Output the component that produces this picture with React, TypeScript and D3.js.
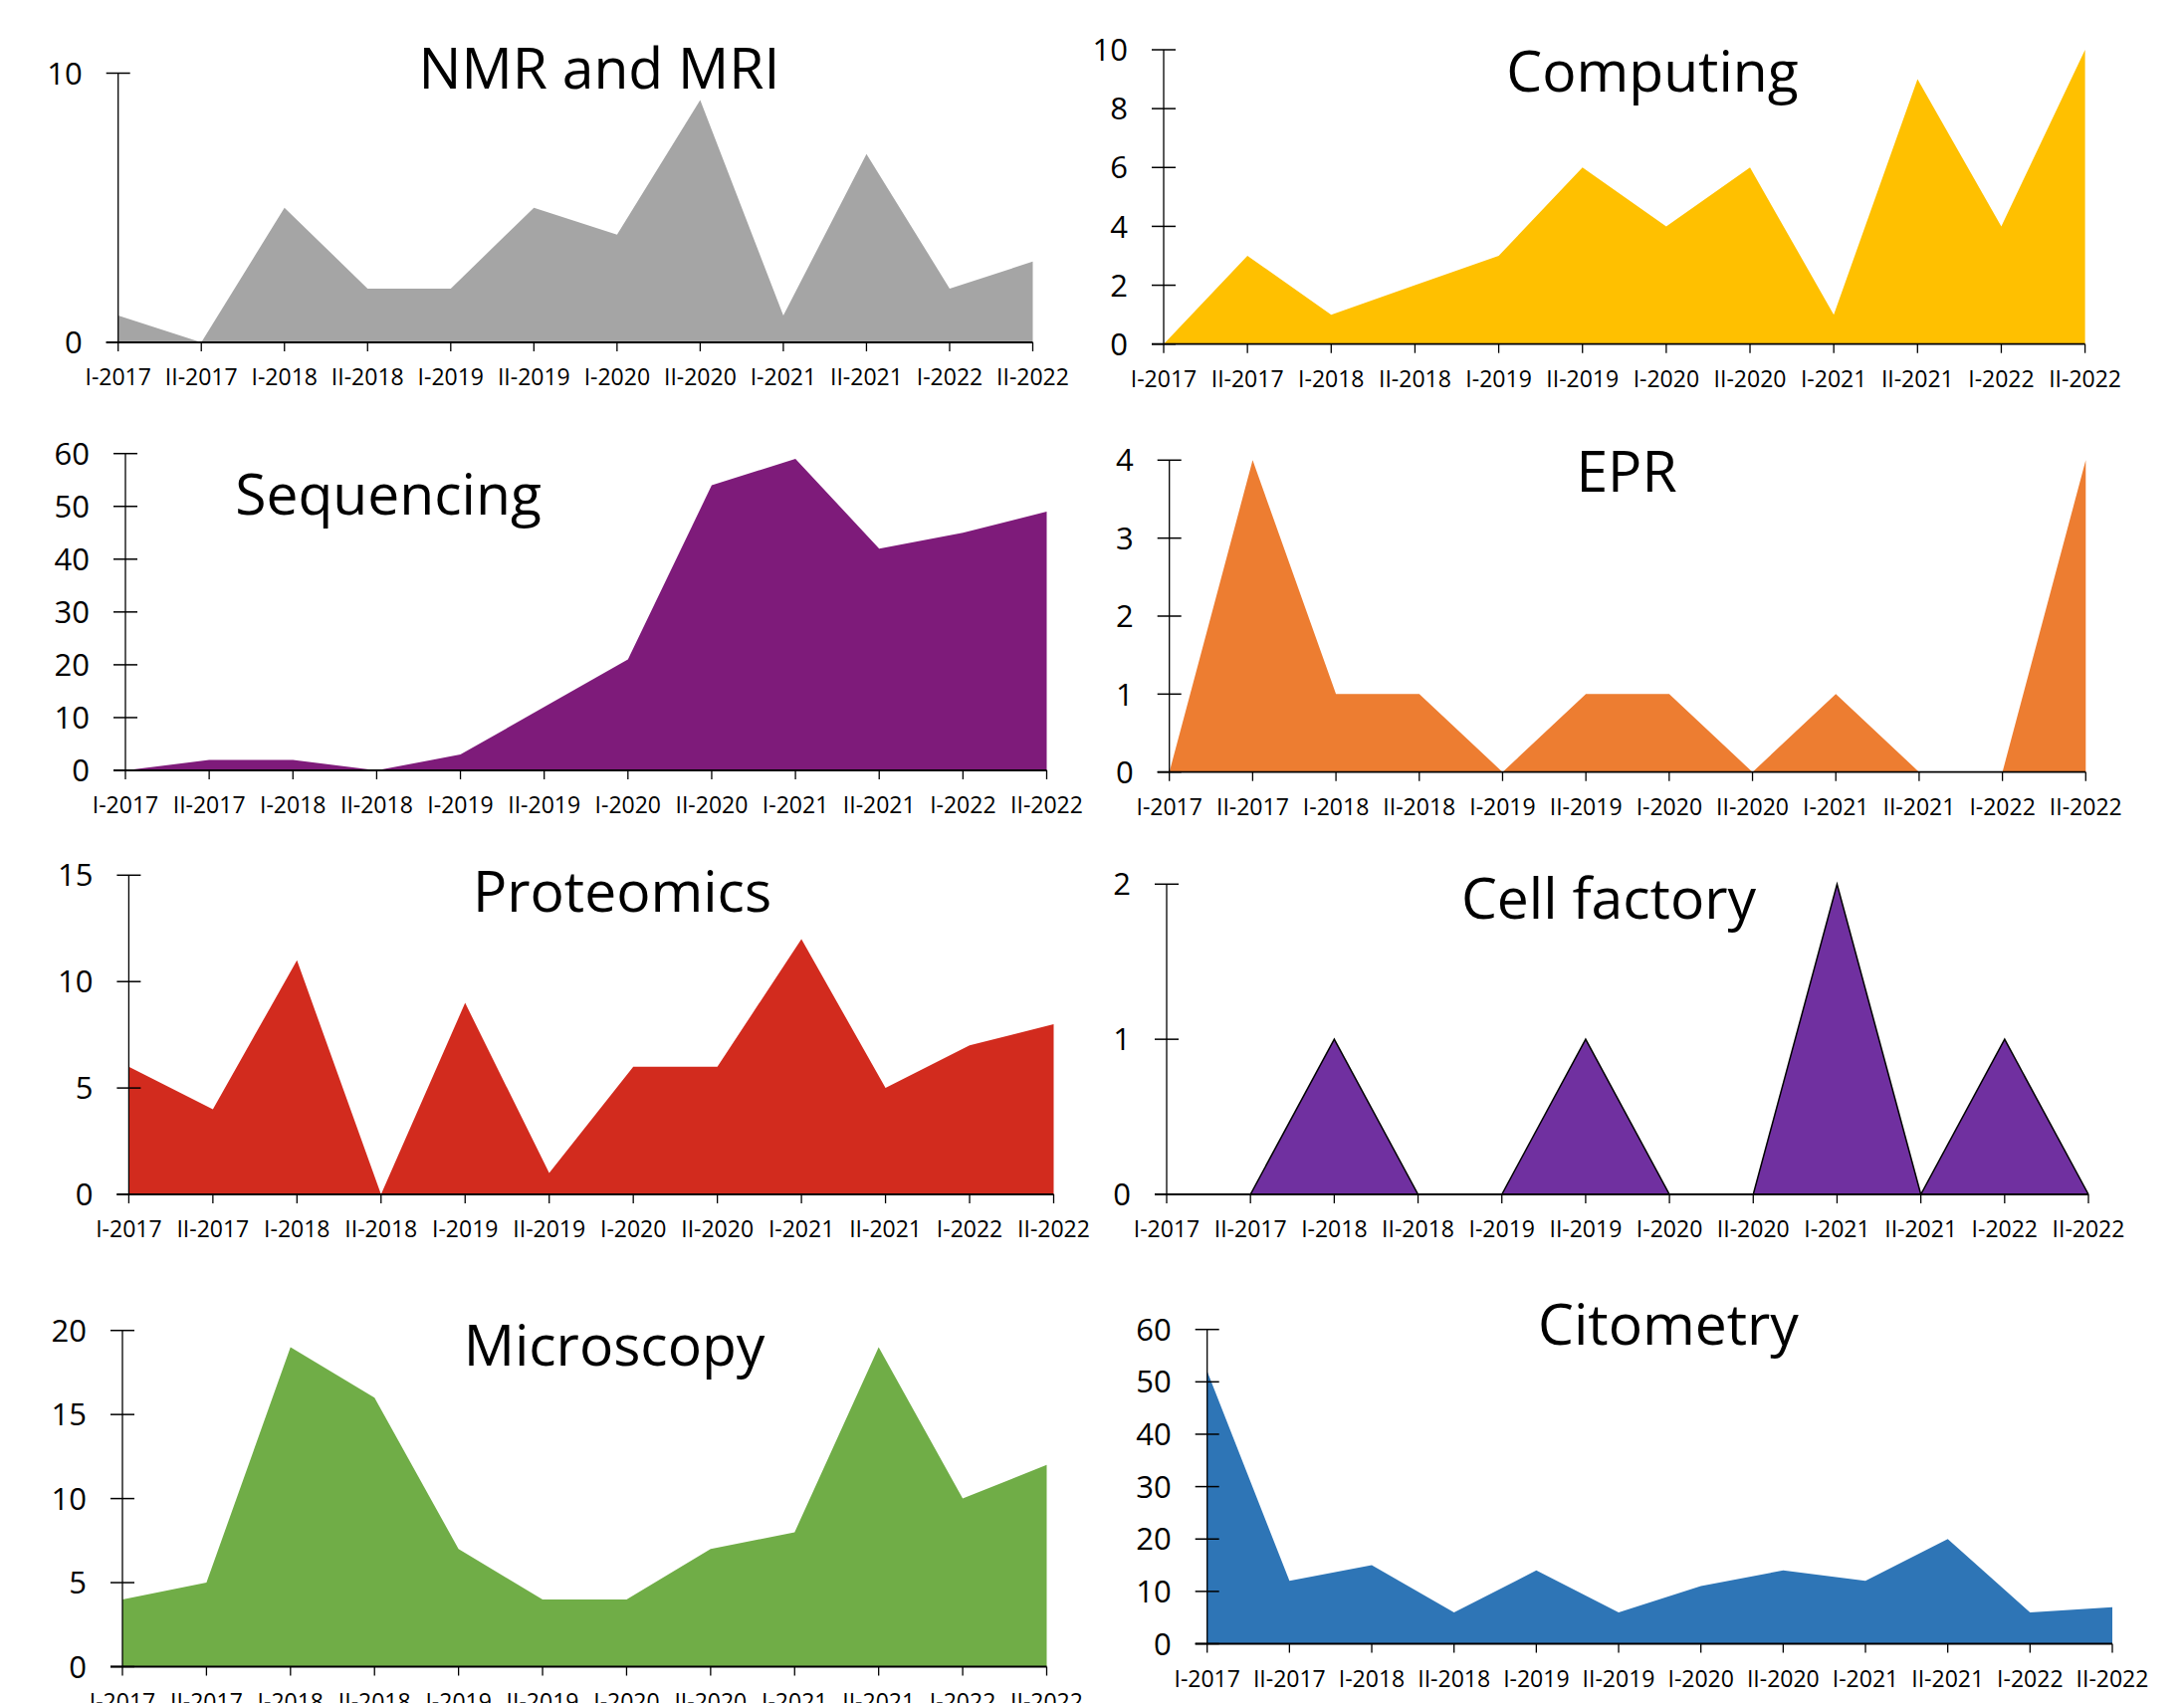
import React from "react";
import * as d3 from "d3";

const categories = ["I-2017","II-2017","I-2018","II-2018","I-2019","II-2019","I-2020","II-2020","I-2021","II-2021","I-2022","II-2022"];

const nmrValues = [1, 0, 5, 2, 2, 5, 4, 9, 1, 7, 2, 3];
const computingValues = [0, 3, 1, 2, 3, 6, 4, 6, 1, 9, 4, 10];
const sequencingValues = [0, 2, 2, 0, 3, 12, 21, 54, 59, 42, 45, 49];
const eprValues = [0, 4, 1, 1, 0, 1, 1, 0, 1, 0, 0, 4];
const proteomicsValues = [6, 4, 11, 0, 9, 1, 6, 6, 12, 5, 7, 8];
const cellFactoryValues = [0, 0, 1, 0, 0, 1, 0, 0, 2, 0, 1, 0];
const microscopyValues = [4, 5, 19, 16, 7, 4, 4, 7, 8, 19, 10, 12];
const citometryValues = [52, 12, 15, 6, 14, 6, 11, 14, 12, 20, 6, 7];

const nmrTicks = [0, 10];
const computingTicks = [0, 2, 4, 6, 8, 10];
const sequencingTicks = [0, 10, 20, 30, 40, 50, 60];
const eprTicks = [0, 1, 2, 3, 4];
const proteomicsTicks = [0, 5, 10, 15];
const cellFactoryTicks = [0, 1, 2];
const microscopyTicks = [0, 5, 10, 15, 20];
const citometryTicks = [0, 10, 20, 30, 40, 50, 60];

// layout (pixel geometry of each panel)
const panels = [
  { title: "NMR and MRI", values: nmrValues, ticks: nmrTicks, color: "#A5A5A5", x0: 118.7, x1: 1037.5, y0: 344, yTop: 73.5, tx: 602, ty: 89 },
  { title: "Computing", values: computingValues, ticks: computingTicks, color: "#FFC000", x0: 1169, x1: 2094.6, y0: 345.7, yTop: 50, tx: 1660, ty: 92 },
  { title: "Sequencing", values: sequencingValues, ticks: sequencingTicks, color: "#7E1B7A", x0: 126, x1: 1051.5, y0: 774, yTop: 455.7, tx: 390, ty: 517 },
  { title: "EPR", values: eprValues, ticks: eprTicks, color: "#ED7D31", x0: 1174.7, x1: 2095.3, y0: 775.7, yTop: 462.3, tx: 1634, ty: 494 },
  { title: "Proteomics", values: proteomicsValues, ticks: proteomicsTicks, color: "#D22B1E", x0: 129.4, x1: 1058.5, y0: 1200, yTop: 879.3, tx: 625, ty: 916 },
  { title: "Cell factory", values: cellFactoryValues, ticks: cellFactoryTicks, color: "#7030A0", x0: 1172, x1: 2098, y0: 1200, yTop: 888.3, tx: 1616, ty: 923, outline: true },
  { title: "Microscopy", values: microscopyValues, ticks: microscopyTicks, color: "#70AD47", x0: 123, x1: 1051.5, y0: 1674.5, yTop: 1336.7, tx: 617, ty: 1372 },
  { title: "Citometry", values: citometryValues, ticks: citometryTicks, color: "#2E75B6", x0: 1212.7, x1: 2122, y0: 1651.5, yTop: 1335.7, tx: 1676, ty: 1351 },
];

const FONT = "'Open Sans', 'Noto Sans', sans-serif";

function Panel({ p }: { p: any }) {
  const x = d3.scalePoint<string>().domain(categories).range([p.x0, p.x1]);
  const yMax = p.ticks[p.ticks.length - 1];
  const y = d3.scaleLinear().domain([0, yMax]).range([p.y0, p.yTop]);
  const pts = p.values.map((v: number, i: number) => ({ c: categories[i], v }));
  const area = d3.area<any>().x((d) => x(d.c) as number).y0(y(0)).y1((d) => y(d.v));
  const line = d3.line<any>().x((d) => x(d.c) as number).y((d) => y(d.v));
  return (
    <g>
      <path d={area(pts) as string} fill={p.color} stroke="none" />
      {p.outline && <path d={line(pts) as string} fill="none" stroke="#000" strokeWidth={1.5} strokeLinejoin="miter" />}
      {/* y axis */}
      <line x1={p.x0} x2={p.x0} y1={y(0)} y2={y(yMax)} stroke="#000" strokeWidth={1.3} />
      {p.ticks.map((t: number) => (
        <g key={"y" + t}>
          <line x1={p.x0 - 12} x2={p.x0 + 12} y1={y(t)} y2={y(t)} stroke="#000" strokeWidth={1.5} />
          <text x={p.x0 - 36} y={y(t)} dy="0.36em" textAnchor="end" fontFamily={FONT} fontSize={31} fill="#000">{t}</text>
        </g>
      ))}
      {/* x axis */}
      <line x1={p.x0 - 12} x2={p.x1} y1={y(0)} y2={y(0)} stroke="#000" strokeWidth={1.8} />
      {categories.map((c) => (
        <g key={"x" + c}>
          <line x1={x(c)} x2={x(c)} y1={y(0)} y2={y(0) + 9} stroke="#000" strokeWidth={1.3} />
          <text x={x(c)} y={y(0) + 43} textAnchor="middle" fontFamily={FONT} fontSize={23} fill="#000">{c}</text>
        </g>
      ))}
      <text x={p.tx} y={p.ty} textAnchor="middle" fontFamily={FONT} fontSize={57} fill="#000">{p.title}</text>
    </g>
  );
}

export default function App() {
  return (
    <div style={{ width: 2194, height: 1711, overflow: "hidden" }}>
      <style>{`body{margin:0;}`}</style>
      <svg width={2194} height={1711} viewBox="0 0 2194 1711" style={{ display: "block", background: "#fff" }}>
        <rect x={0} y={0} width={2194} height={1711} fill="#fff" />
        {panels.map((p) => <Panel key={p.title} p={p} />)}
      </svg>
    </div>
  );
}
